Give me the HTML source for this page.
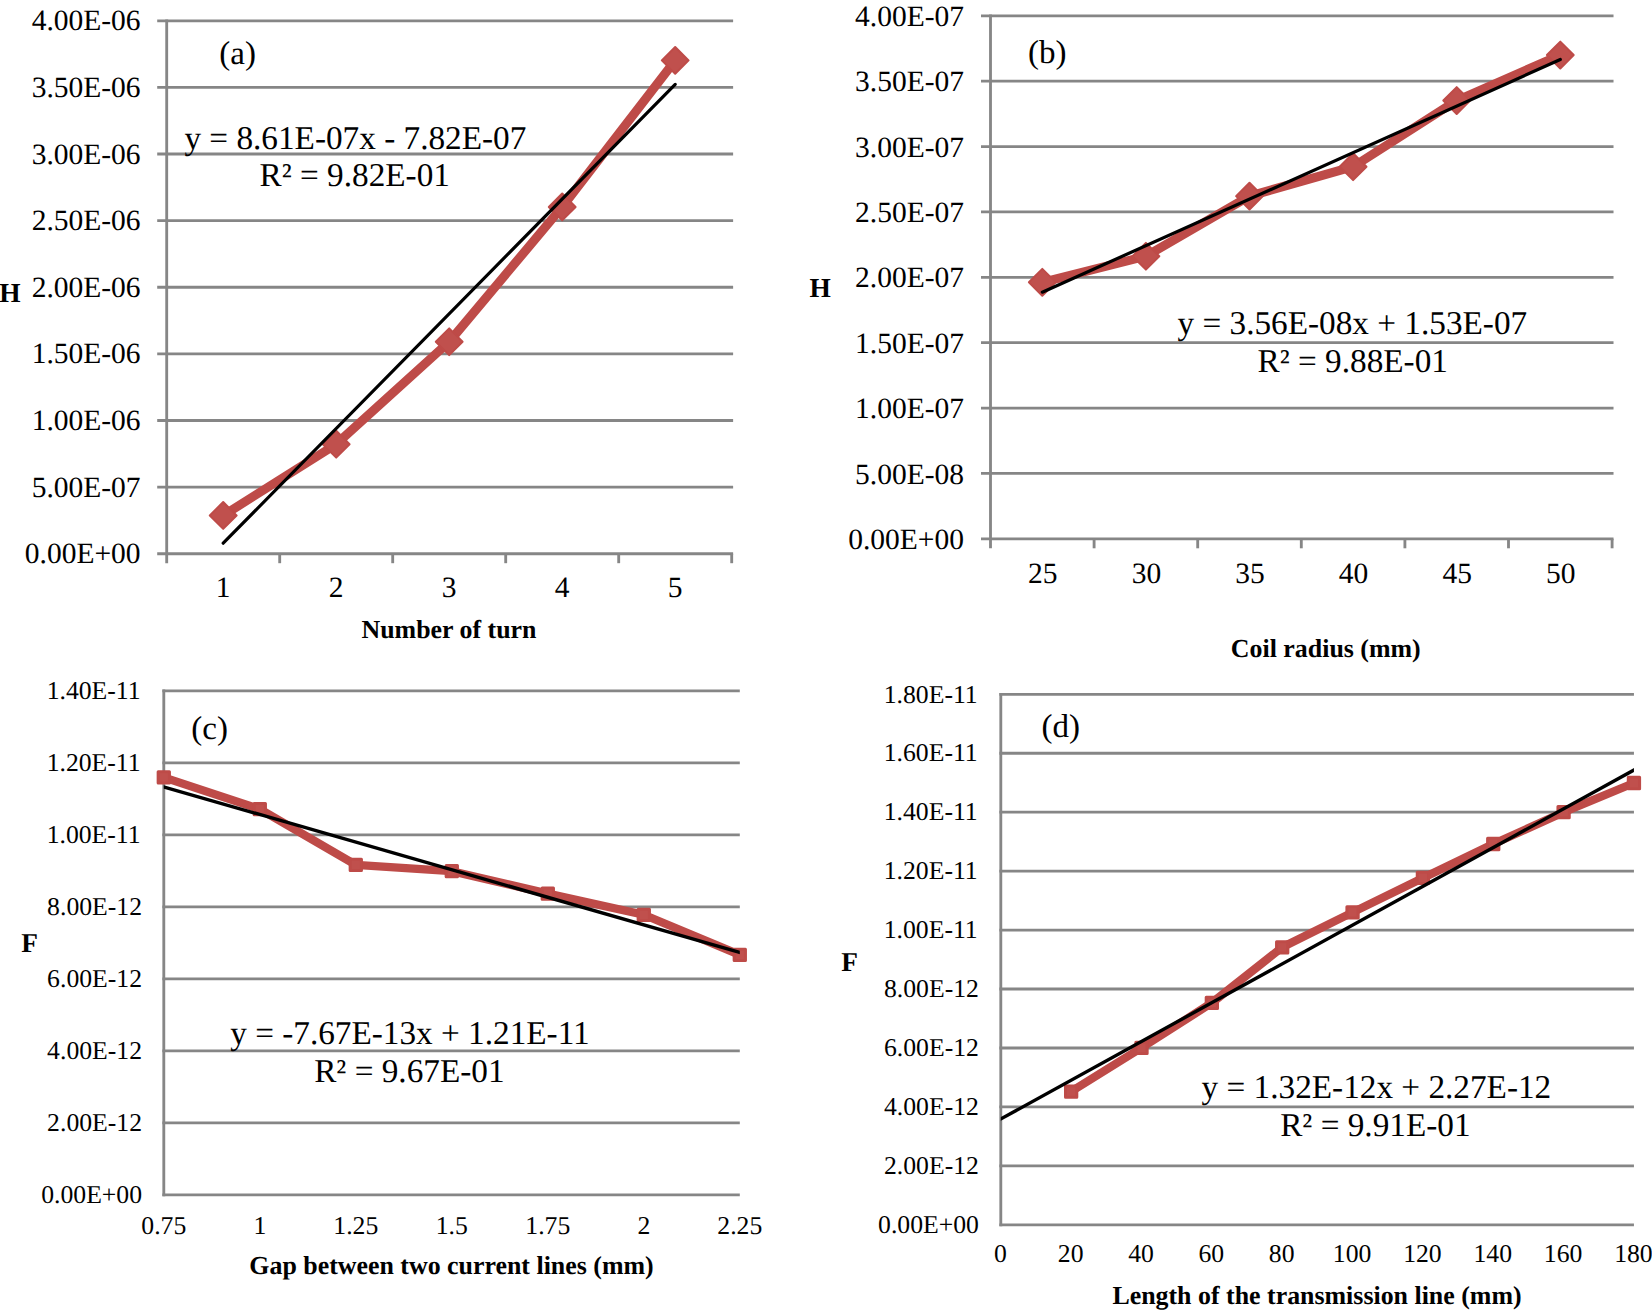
<!DOCTYPE html>
<html lang="en"><head><meta charset="utf-8"><title>Inductance and capacitance trend charts</title>
<style>html,body{margin:0;padding:0;background:#fff}body{width:1652px;height:1312px;overflow:hidden}svg{display:block}text{font-family:'Liberation Serif', 'Times New Roman', Times, serif;fill:#000}</style>
</head><body>
<svg width="1652" height="1312" viewBox="0 0 1652 1312" text-rendering="geometricPrecision">
<rect width="1652" height="1312" fill="#fff"/>
<g>
<line x1="157.2" y1="553.7" x2="733.12" y2="553.7" stroke="#868686" stroke-width="2.85"/>
<line x1="157.2" y1="487.09" x2="733.12" y2="487.09" stroke="#868686" stroke-width="2.85"/>
<line x1="157.2" y1="420.48" x2="733.12" y2="420.48" stroke="#868686" stroke-width="2.85"/>
<line x1="157.2" y1="353.86" x2="733.12" y2="353.86" stroke="#868686" stroke-width="2.85"/>
<line x1="157.2" y1="287.25" x2="733.12" y2="287.25" stroke="#868686" stroke-width="2.85"/>
<line x1="157.2" y1="220.64" x2="733.12" y2="220.64" stroke="#868686" stroke-width="2.85"/>
<line x1="157.2" y1="154.02" x2="733.12" y2="154.02" stroke="#868686" stroke-width="2.85"/>
<line x1="157.2" y1="87.41" x2="733.12" y2="87.41" stroke="#868686" stroke-width="2.85"/>
<line x1="157.2" y1="20.8" x2="733.12" y2="20.8" stroke="#868686" stroke-width="2.85"/>
<line x1="166.7" y1="19.38" x2="166.7" y2="563.2" stroke="#868686" stroke-width="2.85"/>
<line x1="279.7" y1="553.7" x2="279.7" y2="563.2" stroke="#868686" stroke-width="2.85"/>
<line x1="392.7" y1="553.7" x2="392.7" y2="563.2" stroke="#868686" stroke-width="2.85"/>
<line x1="505.7" y1="553.7" x2="505.7" y2="563.2" stroke="#868686" stroke-width="2.85"/>
<line x1="618.7" y1="553.7" x2="618.7" y2="563.2" stroke="#868686" stroke-width="2.85"/>
<line x1="731.7" y1="553.7" x2="731.7" y2="563.2" stroke="#868686" stroke-width="2.85"/>
<text x="140.6" y="563.3" font-size="29.5" text-anchor="end">0.00E+00</text>
<text x="140.6" y="496.69" font-size="29.5" text-anchor="end">5.00E-07</text>
<text x="140.6" y="430.08" font-size="29.5" text-anchor="end">1.00E-06</text>
<text x="140.6" y="363.46" font-size="29.5" text-anchor="end">1.50E-06</text>
<text x="140.6" y="296.85" font-size="29.5" text-anchor="end">2.00E-06</text>
<text x="140.6" y="230.24" font-size="29.5" text-anchor="end">2.50E-06</text>
<text x="140.6" y="163.62" font-size="29.5" text-anchor="end">3.00E-06</text>
<text x="140.6" y="97.01" font-size="29.5" text-anchor="end">3.50E-06</text>
<text x="140.6" y="30.4" font-size="29.5" text-anchor="end">4.00E-06</text>
<text x="223.2" y="597" font-size="29.5" text-anchor="middle">1</text>
<text x="336.2" y="597" font-size="29.5" text-anchor="middle">2</text>
<text x="449.2" y="597" font-size="29.5" text-anchor="middle">3</text>
<text x="562.2" y="597" font-size="29.5" text-anchor="middle">4</text>
<text x="675.2" y="597" font-size="29.5" text-anchor="middle">5</text>
<polyline fill="none" stroke="#BE4B48" stroke-width="9" stroke-linejoin="round" stroke-linecap="round" points="223.2,515.46 336.2,444.19 449.2,341.74 562.2,206.92 675.2,60.41"/>
<path d="M223.2 502.06L236.6 515.46L223.2 528.86L209.8 515.46Z" fill="#C0504D" stroke="#BE4B48" stroke-width="2" stroke-linejoin="round"/>
<path d="M336.2 430.79L349.6 444.19L336.2 457.59L322.8 444.19Z" fill="#C0504D" stroke="#BE4B48" stroke-width="2" stroke-linejoin="round"/>
<path d="M449.2 328.34L462.6 341.74L449.2 355.14L435.8 341.74Z" fill="#C0504D" stroke="#BE4B48" stroke-width="2" stroke-linejoin="round"/>
<path d="M562.2 193.52L575.6 206.92L562.2 220.32L548.8 206.92Z" fill="#C0504D" stroke="#BE4B48" stroke-width="2" stroke-linejoin="round"/>
<path d="M675.2 47.01L688.6 60.41L675.2 73.81L661.8 60.41Z" fill="#C0504D" stroke="#BE4B48" stroke-width="2" stroke-linejoin="round"/>
<line x1="223.2" y1="543.18" x2="675.2" y2="84.35" stroke="#000" stroke-width="3.2" stroke-linecap="round"/>
<text x="219.3" y="63.8" font-size="33" text-anchor="start">(a)</text>
<text x="184.4" y="149.3" font-size="33.25" text-anchor="start">y = 8.61E-07x - 7.82E-07</text>
<text x="259.6" y="186.3" font-size="33.25" text-anchor="start">R² = 9.82E-01</text>
<text x="-0.75" y="302" font-size="27.4" text-anchor="start" font-weight="bold">H</text>
<text x="449" y="638" font-size="25.9" text-anchor="middle" font-weight="bold">Number of turn</text>
</g>
<g>
<line x1="981" y1="538.8" x2="1613.52" y2="538.8" stroke="#868686" stroke-width="2.85"/>
<line x1="981" y1="473.42" x2="1613.52" y2="473.42" stroke="#868686" stroke-width="2.85"/>
<line x1="981" y1="408.05" x2="1613.52" y2="408.05" stroke="#868686" stroke-width="2.85"/>
<line x1="981" y1="342.67" x2="1613.52" y2="342.67" stroke="#868686" stroke-width="2.85"/>
<line x1="981" y1="277.3" x2="1613.52" y2="277.3" stroke="#868686" stroke-width="2.85"/>
<line x1="981" y1="211.92" x2="1613.52" y2="211.92" stroke="#868686" stroke-width="2.85"/>
<line x1="981" y1="146.55" x2="1613.52" y2="146.55" stroke="#868686" stroke-width="2.85"/>
<line x1="981" y1="81.17" x2="1613.52" y2="81.17" stroke="#868686" stroke-width="2.85"/>
<line x1="981" y1="15.8" x2="1613.52" y2="15.8" stroke="#868686" stroke-width="2.85"/>
<line x1="990.5" y1="14.38" x2="990.5" y2="548.3" stroke="#868686" stroke-width="2.85"/>
<line x1="1094.1" y1="538.8" x2="1094.1" y2="548.3" stroke="#868686" stroke-width="2.85"/>
<line x1="1197.7" y1="538.8" x2="1197.7" y2="548.3" stroke="#868686" stroke-width="2.85"/>
<line x1="1301.3" y1="538.8" x2="1301.3" y2="548.3" stroke="#868686" stroke-width="2.85"/>
<line x1="1404.9" y1="538.8" x2="1404.9" y2="548.3" stroke="#868686" stroke-width="2.85"/>
<line x1="1508.5" y1="538.8" x2="1508.5" y2="548.3" stroke="#868686" stroke-width="2.85"/>
<line x1="1612.1" y1="538.8" x2="1612.1" y2="548.3" stroke="#868686" stroke-width="2.85"/>
<text x="964" y="548.9" font-size="29.5" text-anchor="end">0.00E+00</text>
<text x="964" y="483.52" font-size="29.5" text-anchor="end">5.00E-08</text>
<text x="964" y="418.15" font-size="29.5" text-anchor="end">1.00E-07</text>
<text x="964" y="352.77" font-size="29.5" text-anchor="end">1.50E-07</text>
<text x="964" y="287.4" font-size="29.5" text-anchor="end">2.00E-07</text>
<text x="964" y="222.02" font-size="29.5" text-anchor="end">2.50E-07</text>
<text x="964" y="156.65" font-size="29.5" text-anchor="end">3.00E-07</text>
<text x="964" y="91.27" font-size="29.5" text-anchor="end">3.50E-07</text>
<text x="964" y="25.9" font-size="29.5" text-anchor="end">4.00E-07</text>
<text x="1042.8" y="582.5" font-size="29.5" text-anchor="middle">25</text>
<text x="1146.4" y="582.5" font-size="29.5" text-anchor="middle">30</text>
<text x="1250" y="582.5" font-size="29.5" text-anchor="middle">35</text>
<text x="1353.6" y="582.5" font-size="29.5" text-anchor="middle">40</text>
<text x="1457.2" y="582.5" font-size="29.5" text-anchor="middle">45</text>
<text x="1560.8" y="582.5" font-size="29.5" text-anchor="middle">50</text>
<polyline fill="none" stroke="#BE4B48" stroke-width="9" stroke-linejoin="round" stroke-linecap="round" points="1042.3,282.27 1145.9,256.25 1249.5,196.1 1353.1,166.69 1456.7,100.53 1560.3,55.02"/>
<path d="M1042.3 268.87L1055.7 282.27L1042.3 295.67L1028.9 282.27Z" fill="#C0504D" stroke="#BE4B48" stroke-width="2" stroke-linejoin="round"/>
<path d="M1145.9 242.85L1159.3 256.25L1145.9 269.65L1132.5 256.25Z" fill="#C0504D" stroke="#BE4B48" stroke-width="2" stroke-linejoin="round"/>
<path d="M1249.5 182.7L1262.9 196.1L1249.5 209.5L1236.1 196.1Z" fill="#C0504D" stroke="#BE4B48" stroke-width="2" stroke-linejoin="round"/>
<path d="M1353.1 153.29L1366.5 166.69L1353.1 180.09L1339.7 166.69Z" fill="#C0504D" stroke="#BE4B48" stroke-width="2" stroke-linejoin="round"/>
<path d="M1456.7 87.13L1470.1 100.53L1456.7 113.93L1443.3 100.53Z" fill="#C0504D" stroke="#BE4B48" stroke-width="2" stroke-linejoin="round"/>
<path d="M1560.3 41.62L1573.7 55.02L1560.3 68.42L1546.9 55.02Z" fill="#C0504D" stroke="#BE4B48" stroke-width="2" stroke-linejoin="round"/>
<line x1="1042.3" y1="292.21" x2="1560.3" y2="59.47" stroke="#000" stroke-width="3.2" stroke-linecap="round"/>
<text x="1027.9" y="62.6" font-size="33" text-anchor="start">(b)</text>
<text x="1177.5" y="334.3" font-size="33.25" text-anchor="start">y = 3.56E-08x + 1.53E-07</text>
<text x="1257.6" y="371.5" font-size="33.25" text-anchor="start">R² = 9.88E-01</text>
<text x="809.4" y="297" font-size="27.4" text-anchor="start" font-weight="bold">H</text>
<text x="1325.8" y="657.4" font-size="25.9" text-anchor="middle" font-weight="bold">Coil radius (mm)</text>
</g>
<g>
<line x1="162.38" y1="1194.8" x2="739.8" y2="1194.8" stroke="#868686" stroke-width="2.85"/>
<line x1="162.38" y1="1122.81" x2="739.8" y2="1122.81" stroke="#868686" stroke-width="2.85"/>
<line x1="162.38" y1="1050.83" x2="739.8" y2="1050.83" stroke="#868686" stroke-width="2.85"/>
<line x1="162.38" y1="978.84" x2="739.8" y2="978.84" stroke="#868686" stroke-width="2.85"/>
<line x1="162.38" y1="906.86" x2="739.8" y2="906.86" stroke="#868686" stroke-width="2.85"/>
<line x1="162.38" y1="834.87" x2="739.8" y2="834.87" stroke="#868686" stroke-width="2.85"/>
<line x1="162.38" y1="762.89" x2="739.8" y2="762.89" stroke="#868686" stroke-width="2.85"/>
<line x1="162.38" y1="690.9" x2="739.8" y2="690.9" stroke="#868686" stroke-width="2.85"/>
<line x1="163.8" y1="689.48" x2="163.8" y2="1196.22" stroke="#868686" stroke-width="2.85"/>
<text x="142" y="1203" font-size="25.7" text-anchor="end">0.00E+00</text>
<text x="142" y="1131.01" font-size="25.7" text-anchor="end">2.00E-12</text>
<text x="142" y="1059.03" font-size="25.7" text-anchor="end">4.00E-12</text>
<text x="142" y="987.04" font-size="25.7" text-anchor="end">6.00E-12</text>
<text x="142" y="915.06" font-size="25.7" text-anchor="end">8.00E-12</text>
<text x="140.6" y="843.07" font-size="25.7" text-anchor="end">1.00E-11</text>
<text x="140.6" y="771.09" font-size="25.7" text-anchor="end">1.20E-11</text>
<text x="140.6" y="699.1" font-size="25.7" text-anchor="end">1.40E-11</text>
<text x="163.8" y="1233.5" font-size="25.7" text-anchor="middle">0.75</text>
<text x="259.8" y="1233.5" font-size="25.7" text-anchor="middle">1</text>
<text x="355.8" y="1233.5" font-size="25.7" text-anchor="middle">1.25</text>
<text x="451.8" y="1233.5" font-size="25.7" text-anchor="middle">1.5</text>
<text x="547.8" y="1233.5" font-size="25.7" text-anchor="middle">1.75</text>
<text x="643.8" y="1233.5" font-size="25.7" text-anchor="middle">2</text>
<text x="739.8" y="1233.5" font-size="25.7" text-anchor="middle">2.25</text>
<polyline fill="none" stroke="#BE4B48" stroke-width="8.3" stroke-linejoin="round" stroke-linecap="round" points="163.8,777.39 259.8,809.14 355.8,864.85 451.8,871.22 547.8,893.61 643.8,914.78 739.8,954.84"/>
<rect x="158.15" y="771.74" width="11.3" height="11.3" fill="#C0504D" stroke="#BE4B48" stroke-width="3" stroke-linejoin="round"/>
<rect x="254.15" y="803.49" width="11.3" height="11.3" fill="#C0504D" stroke="#BE4B48" stroke-width="3" stroke-linejoin="round"/>
<rect x="350.15" y="859.2" width="11.3" height="11.3" fill="#C0504D" stroke="#BE4B48" stroke-width="3" stroke-linejoin="round"/>
<rect x="446.15" y="865.57" width="11.3" height="11.3" fill="#C0504D" stroke="#BE4B48" stroke-width="3" stroke-linejoin="round"/>
<rect x="542.15" y="887.96" width="11.3" height="11.3" fill="#C0504D" stroke="#BE4B48" stroke-width="3" stroke-linejoin="round"/>
<rect x="638.15" y="909.13" width="11.3" height="11.3" fill="#C0504D" stroke="#BE4B48" stroke-width="3" stroke-linejoin="round"/>
<rect x="734.15" y="949.19" width="11.3" height="11.3" fill="#C0504D" stroke="#BE4B48" stroke-width="3" stroke-linejoin="round"/>
<clipPath id="clip128"><rect x="163.8" y="670.9" width="576" height="543.9"/></clipPath>
<line x1="159.8" y1="785.74" x2="743.8" y2="953.68" stroke="#000" stroke-width="3.4" clip-path="url(#clip128)"/>
<text x="191.3" y="738.5" font-size="33" text-anchor="start">(c)</text>
<text x="230.2" y="1044" font-size="33.25" text-anchor="start">y = -7.67E-13x + 1.21E-11</text>
<text x="314.2" y="1081.5" font-size="33.25" text-anchor="start">R² = 9.67E-01</text>
<text x="21.3" y="952" font-size="27.3" text-anchor="start" font-weight="bold">F</text>
<text x="451.5" y="1273.5" font-size="25.9" text-anchor="middle" font-weight="bold">Gap between two current lines (mm)</text>
</g>
<g>
<line x1="999.38" y1="1224.8" x2="1633.95" y2="1224.8" stroke="#868686" stroke-width="2.85"/>
<line x1="999.38" y1="1165.86" x2="1633.95" y2="1165.86" stroke="#868686" stroke-width="2.85"/>
<line x1="999.38" y1="1106.91" x2="1633.95" y2="1106.91" stroke="#868686" stroke-width="2.85"/>
<line x1="999.38" y1="1047.97" x2="1633.95" y2="1047.97" stroke="#868686" stroke-width="2.85"/>
<line x1="999.38" y1="989.02" x2="1633.95" y2="989.02" stroke="#868686" stroke-width="2.85"/>
<line x1="999.38" y1="930.08" x2="1633.95" y2="930.08" stroke="#868686" stroke-width="2.85"/>
<line x1="999.38" y1="871.13" x2="1633.95" y2="871.13" stroke="#868686" stroke-width="2.85"/>
<line x1="999.38" y1="812.19" x2="1633.95" y2="812.19" stroke="#868686" stroke-width="2.85"/>
<line x1="999.38" y1="753.24" x2="1633.95" y2="753.24" stroke="#868686" stroke-width="2.85"/>
<line x1="999.38" y1="694.3" x2="1633.95" y2="694.3" stroke="#868686" stroke-width="2.85"/>
<line x1="1000.8" y1="692.88" x2="1000.8" y2="1226.22" stroke="#868686" stroke-width="2.85"/>
<text x="978.9" y="1233" font-size="25.7" text-anchor="end">0.00E+00</text>
<text x="978.9" y="1174.06" font-size="25.7" text-anchor="end">2.00E-12</text>
<text x="978.9" y="1115.11" font-size="25.7" text-anchor="end">4.00E-12</text>
<text x="978.9" y="1056.17" font-size="25.7" text-anchor="end">6.00E-12</text>
<text x="978.9" y="997.22" font-size="25.7" text-anchor="end">8.00E-12</text>
<text x="977.7" y="938.28" font-size="25.7" text-anchor="end">1.00E-11</text>
<text x="977.7" y="879.33" font-size="25.7" text-anchor="end">1.20E-11</text>
<text x="977.7" y="820.39" font-size="25.7" text-anchor="end">1.40E-11</text>
<text x="977.7" y="761.44" font-size="25.7" text-anchor="end">1.60E-11</text>
<text x="977.7" y="702.5" font-size="25.7" text-anchor="end">1.80E-11</text>
<text x="1000.3" y="1262.3" font-size="25.7" text-anchor="middle">0</text>
<text x="1070.65" y="1262.3" font-size="25.7" text-anchor="middle">20</text>
<text x="1141" y="1262.3" font-size="25.7" text-anchor="middle">40</text>
<text x="1211.35" y="1262.3" font-size="25.7" text-anchor="middle">60</text>
<text x="1281.7" y="1262.3" font-size="25.7" text-anchor="middle">80</text>
<text x="1352.05" y="1262.3" font-size="25.7" text-anchor="middle">100</text>
<text x="1422.4" y="1262.3" font-size="25.7" text-anchor="middle">120</text>
<text x="1492.75" y="1262.3" font-size="25.7" text-anchor="middle">140</text>
<text x="1563.1" y="1262.3" font-size="25.7" text-anchor="middle">160</text>
<text x="1633.45" y="1262.3" font-size="25.7" text-anchor="middle">180</text>
<polyline fill="none" stroke="#BE4B48" stroke-width="8.3" stroke-linejoin="round" stroke-linecap="round" points="1071.15,1091.59 1141.5,1047.79 1211.85,1002.87 1282.2,947.29 1352.55,912.39 1422.9,877.91 1493.25,844.02 1563.6,812.19 1633.95,783.01"/>
<rect x="1065.5" y="1085.94" width="11.3" height="11.3" fill="#C0504D" stroke="#BE4B48" stroke-width="3" stroke-linejoin="round"/>
<rect x="1135.85" y="1042.14" width="11.3" height="11.3" fill="#C0504D" stroke="#BE4B48" stroke-width="3" stroke-linejoin="round"/>
<rect x="1206.2" y="997.22" width="11.3" height="11.3" fill="#C0504D" stroke="#BE4B48" stroke-width="3" stroke-linejoin="round"/>
<rect x="1276.55" y="941.64" width="11.3" height="11.3" fill="#C0504D" stroke="#BE4B48" stroke-width="3" stroke-linejoin="round"/>
<rect x="1346.9" y="906.74" width="11.3" height="11.3" fill="#C0504D" stroke="#BE4B48" stroke-width="3" stroke-linejoin="round"/>
<rect x="1417.25" y="872.26" width="11.3" height="11.3" fill="#C0504D" stroke="#BE4B48" stroke-width="3" stroke-linejoin="round"/>
<rect x="1487.6" y="838.37" width="11.3" height="11.3" fill="#C0504D" stroke="#BE4B48" stroke-width="3" stroke-linejoin="round"/>
<rect x="1557.95" y="806.54" width="11.3" height="11.3" fill="#C0504D" stroke="#BE4B48" stroke-width="3" stroke-linejoin="round"/>
<rect x="1628.3" y="777.36" width="11.3" height="11.3" fill="#C0504D" stroke="#BE4B48" stroke-width="3" stroke-linejoin="round"/>
<clipPath id="clip178"><rect x="1000.8" y="674.3" width="633.15" height="570.5"/></clipPath>
<line x1="996.8" y1="1121.18" x2="1637.95" y2="767.84" stroke="#000" stroke-width="3.4" clip-path="url(#clip178)"/>
<text x="1041.5" y="736.5" font-size="33" text-anchor="start">(d)</text>
<text x="1201.6" y="1098.3" font-size="33.25" text-anchor="start">y = 1.32E-12x + 2.27E-12</text>
<text x="1280.2" y="1136" font-size="33.25" text-anchor="start">R² = 9.91E-01</text>
<text x="841.3" y="970.8" font-size="27.3" text-anchor="start" font-weight="bold">F</text>
<text x="1317" y="1304" font-size="25.9" text-anchor="middle" font-weight="bold">Length of the transmission line (mm)</text>
</g>
</svg></body></html>
